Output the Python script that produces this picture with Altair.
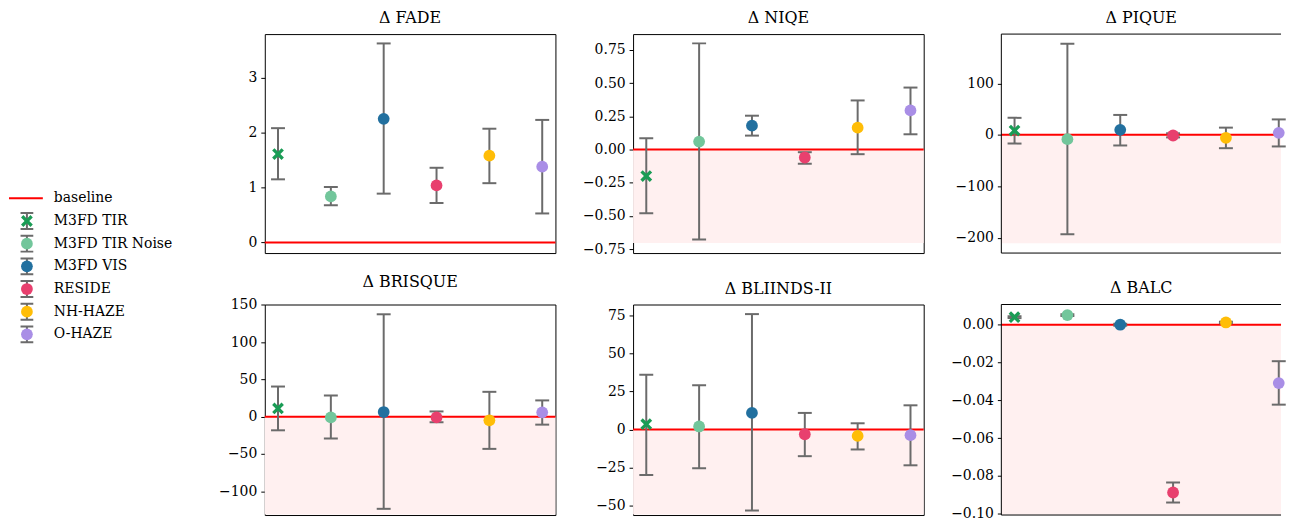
import altair as alt
import pandas as pd

datasets = ["M3FD TIR", "M3FD TIR Noise", "M3FD VIS", "RESIDE", "NH-HAZE", "O-HAZE"]
colors = ["#1a9c55", "#72c69b", "#22709f", "#e8406e", "#ffbd07", "#a98ee6"]
metrics = ["Δ FADE", "Δ NIQE", "Δ PIQUE", "Δ BRISQUE", "Δ BLIINDS-II", "Δ BALC"]

fade_mean = [1.61, 0.84, 2.25, 1.04, 1.58, 1.38]
fade_lo = [1.15, 0.68, 0.89, 0.72, 1.08, 0.53]
fade_hi = [2.08, 1.01, 3.62, 1.36, 2.07, 2.23]

niqe_mean = [-0.20, 0.06, 0.18, -0.06, 0.165, 0.295]
niqe_lo = [-0.48, -0.677, 0.105, -0.107, -0.035, 0.115]
niqe_hi = [0.085, 0.80, 0.255, -0.02, 0.37, 0.467]

pique_mean = [8.3, -8.5, 9.7, -1.3, -5.8, 3.9]
pique_lo = [-17.0, -193.5, -20.7, -5.0, -26.0, -22.6]
pique_hi = [33.0, 177.0, 38.7, 3.0, 14.0, 30.0]

brisque_mean = [11.0, -1.0, 6.2, -1.0, -4.9, 5.8]
brisque_lo = [-18.3, -29.3, -123.6, -7.5, -43.2, -10.7]
brisque_hi = [40.4, 28.4, 137.3, 7.0, 33.3, 21.8]

bliinds_mean = [3.5, 2.0, 10.9, -3.1, -4.2, -3.7]
bliinds_lo = [-29.9, -25.5, -53.2, -17.5, -13.1, -23.5]
bliinds_hi = [36.0, 29.0, 75.8, 10.9, 4.1, 15.9]

balc_mean = [0.0040, 0.0051, 0.0, -0.0888, 0.0012, -0.0309]
balc_lo = [0.0035, 0.0046, -0.0005, -0.0941, 0.0008, -0.0423]
balc_hi = [0.0045, 0.0056, 0.0005, -0.0835, 0.0016, -0.0193]

means = [fade_mean, niqe_mean, pique_mean, brisque_mean, bliinds_mean, balc_mean]
los = [fade_lo, niqe_lo, pique_lo, brisque_lo, bliinds_lo, balc_lo]
his = [fade_hi, niqe_hi, pique_hi, brisque_hi, bliinds_hi, balc_hi]

# full y ranges of each panel
y_domains = [[-0.19, 3.79], [-0.78, 0.87], [-230, 196], [-141, 150.4], [-60.6, 82.1], [-0.1043, 0.0107]]
y_ticks = [
    [0, 1, 2, 3],
    [-0.75, -0.5, -0.25, 0, 0.25, 0.5, 0.75],
    [-200, -100, 0, 100],
    [-100, -50, 0, 50, 100, 150],
    [-50, -25, 0, 25, 50, 75],
    [-0.10, -0.08, -0.06, -0.04, -0.02, 0.0],
]
y_formats = ["d", ".2f", "d", "d", "d", ".2f"]
shade_lo = [None, -0.705, -211, -131.2, -55.8, -0.1005]

legend_labels = ["baseline"] + datasets

GRAY = "#6b6b6b"
X_PATH = "M -0.6 -1 L 0 -0.4 L 0.6 -1 L 1 -0.6 L 0.4 0 L 1 0.6 L 0.6 1 L 0 0.4 L -0.6 1 L -1 0.6 L -0.4 0 L -1 -0.6 Z"
shapes = [X_PATH] + ["circle"] * 5
ERR_PATH = "M -0.8 -1 L 0.8 -1 M 0 -1 L 0 1 M -0.8 1 L 0.8 1"

# panel geometry: the reference figure is cropped on the right and at the bottom
FULL_W, FULL_H_TOP, FULL_H_BOT = 292, 220, 218.3
COL_W = [292, 292, 281]
ROW_H = [220, 211.5]


def panel(k):
    r, c = divmod(k, 3)
    w, h = COL_W[c], ROW_H[r]
    full_h = FULL_H_TOP if r == 0 else FULL_H_BOT
    ymin, ymax = y_domains[k]
    ymin = ymax - (ymax - ymin) * h / full_h
    xmax = -0.25 + 5.5 * w / FULL_W
    xs = alt.Scale(domain=[-0.25, xmax], nice=False, zero=False)
    ys = alt.Scale(domain=[ymin, ymax], nice=False, zero=False)
    df = pd.DataFrame({"idx": list(range(6)), "dataset": datasets,
                       "mean": means[k], "lo": los[k], "hi": his[k]})
    yaxis = alt.Axis(values=y_ticks[k], format=y_formats[k], grid=False, domain=False,
                     title=None, minExtent=50, maxExtent=50)
    X = alt.X("idx:Q", scale=xs, axis=None)
    layers = []
    if shade_lo[k] is not None:
        layers.append(
            alt.Chart(pd.DataFrame({"lo": [shade_lo[k]], "hi": [0.0]}))
            .mark_rect(color="#fff0f0")
            .encode(y=alt.Y("lo:Q", scale=ys, axis=yaxis), y2="hi:Q")
        )
    layers.append(
        alt.Chart(pd.DataFrame({"b": [0.0]}))
        .mark_rule(color="red", strokeWidth=2)
        .encode(y=alt.Y("b:Q", scale=ys, axis=yaxis))
    )
    base = alt.Chart(df)
    layers.append(
        base.mark_rule(color=GRAY, strokeWidth=2)
        .encode(x=X, y=alt.Y("lo:Q", scale=ys, axis=yaxis), y2="hi:Q")
    )
    layers.append(
        base.transform_fold(["lo", "hi"], as_=["end", "val"])
        .mark_tick(color=GRAY, orient="horizontal", size=14, thickness=2, opacity=1)
        .encode(x=X, y=alt.Y("val:Q", scale=ys, axis=yaxis))
    )
    layers.append(
        base.mark_point(filled=True, size=140, opacity=1)
        .encode(
            x=X,
            y=alt.Y("mean:Q", scale=ys, axis=yaxis),
            color=alt.Color("dataset:N", scale=alt.Scale(domain=datasets, range=colors), legend=None),
            shape=alt.Shape("dataset:N", scale=alt.Scale(domain=datasets, range=shapes), legend=None),
        )
    )
    props = dict(title=metrics[k], width=w, height=h)
    if c == 2:
        # the right edge of the last column is cut off in the reference: draw only top/left/bottom frame
        frame = alt.Chart(pd.DataFrame({"t": [ymax], "b": [ymin], "l": [-0.25]}))
        layers.append(frame.mark_rule(color="black", strokeWidth=1).encode(
            y=alt.Y("t:Q", scale=ys, axis=yaxis)))
        layers.append(frame.mark_rule(color="black", strokeWidth=1).encode(
            y=alt.Y("b:Q", scale=ys, axis=yaxis)))
        layers.append(frame.mark_rule(color="black", strokeWidth=1).encode(
            x=alt.X("l:Q", scale=xs, axis=None)))
        props["view"] = alt.ViewBackground(strokeOpacity=0)
    return alt.layer(*layers).resolve_scale(y="shared").properties(**props)


grid = alt.concat(*[panel(k) for k in range(6)], columns=3,
                  spacing={"row": 51.7, "column": 78}, bounds="flush").resolve_scale(
    y="independent", x="independent")

leg_df = pd.DataFrame({"row": list(range(7)), "label": legend_labels,
                       "dataset": [""] + datasets})
LY = alt.Y("row:Q", scale=alt.Scale(domain=[0, 6], range=[165, 301.7]), axis=None)
leg_base = alt.Chart(leg_df)
leg_line = leg_base.transform_filter("datum.row == 0").mark_rule(color="red", strokeWidth=2).encode(
    x=alt.value(0), x2=alt.value(34), y=LY)
leg_err = leg_base.transform_filter("datum.row > 0").mark_point(
    shape=ERR_PATH, filled=False, stroke=GRAY, strokeWidth=2, size=256, opacity=1).encode(
    x=alt.value(18), y=LY)
leg_pts = leg_base.transform_filter("datum.row > 0").mark_point(filled=True, size=140, opacity=1).encode(
    x=alt.value(18), y=LY,
    color=alt.Color("dataset:N", scale=alt.Scale(domain=datasets, range=colors), legend=None),
    shape=alt.Shape("dataset:N", scale=alt.Scale(domain=datasets, range=shapes), legend=None))
leg_txt = leg_base.mark_text(align="left", baseline="middle", font="DejaVu Serif", fontSize=14,
                             color="black").encode(x=alt.value(45), y=LY, text="label:N")
legend = alt.layer(leg_line, leg_err, leg_pts, leg_txt).properties(
    width=200, height=220, view=alt.ViewBackground(strokeOpacity=0))

chart = alt.hconcat(legend, grid, spacing=57, bounds="flush").resolve_scale(
    y="independent", x="independent", color="shared", shape="shared"
).properties(padding=0).configure_view(
    stroke="black", strokeWidth=1
).configure_axis(
    labelFont="DejaVu Serif", labelFontSize=14, labelColor="black", tickColor="black",
    tickSize=4, labelPadding=4, ticks=True
).configure_title(
    font="DejaVu Serif", fontSize=16, fontWeight="normal", color="black",
    offset=8, baseline="alphabetic"
)

chart.save("out.html", embed_options={"renderer": "svg", "actions": False})
